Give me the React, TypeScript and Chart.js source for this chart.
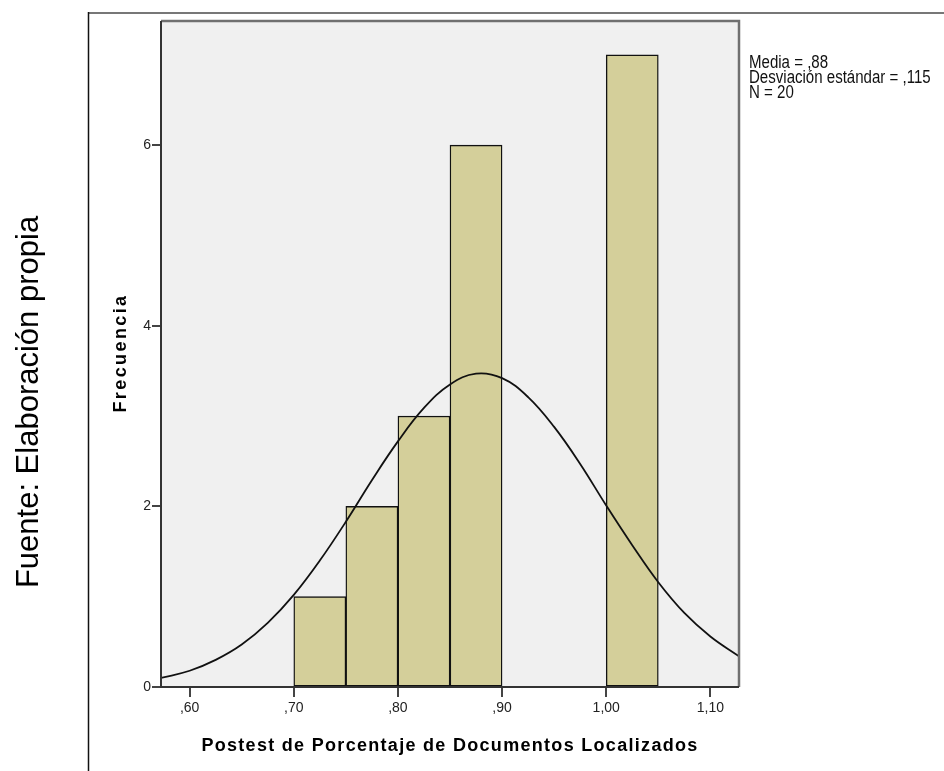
import React, { useEffect, useRef } from "react";
import { Chart, registerables } from "chart.js";

Chart.register(...registerables);

// Histogram bins (lower edge) and frequencies
const binStarts = [0.7, 0.75, 0.8, 0.85, 0.9, 0.95, 1.0];
const binWidth = 0.05;
const frequencies = [1, 2, 3, 6, 0, 0, 7];

// Normal curve points
const curveX = [0.5725, 0.6, 0.625, 0.65, 0.675, 0.7, 0.725, 0.75, 0.775, 0.8, 0.825, 0.85, 0.875, 0.9, 0.925, 0.95, 0.975, 1.0, 1.025, 1.05, 1.075, 1.1, 1.1275];
const curveY = [0.1, 0.18, 0.3, 0.47, 0.71, 1.02, 1.4, 1.83, 2.29, 2.72, 3.09, 3.35, 3.47, 3.42, 3.21, 2.88, 2.47, 2.01, 1.57, 1.16, 0.82, 0.56, 0.34];

const xTicks = [0.6, 0.7, 0.8, 0.9, 1.0, 1.1];
const yTicks = [0, 2, 4, 6];
const xMin = 0.5725;
const xMax = 1.1275;
const yMax = 7.375;

const statsLines = ["Media = ,88", "Desviación estándar = ,115", "N = 20"];
const xTitle = "Postest de Porcentaje de Documentos Localizados";
const yTitle = "Frecuencia";
const sourceText = "Fuente: Elaboración propia";

const FONT = "'Liberation Sans', Arial, sans-serif";

function fmtX(v: number): string {
  const s = v.toFixed(2).replace(".", ",");
  return s.startsWith("0") ? s.slice(1) : s;
}

export default function App() {
  const ref = useRef<HTMLCanvasElement | null>(null);

  useEffect(() => {
    if (!ref.current) return;

    const decor = {
      id: "decor",
      beforeDraw(chart: any) {
        const { ctx, chartArea: a } = chart;
        ctx.save();
        ctx.fillStyle = "#ffffff";
        ctx.fillRect(0, 0, chart.width, chart.height);
        ctx.fillStyle = "#f0f0f0";
        ctx.fillRect(a.left, a.top, a.right - a.left, a.bottom - a.top);
        ctx.restore();
      },
      afterDraw(chart: any) {
        const { ctx, chartArea: a } = chart;
        ctx.save();
        // outer frame
        ctx.strokeStyle = "#777";
        ctx.lineWidth = 2;
        ctx.beginPath();
        ctx.moveTo(88, 13);
        ctx.lineTo(944, 13);
        ctx.stroke();
        ctx.strokeStyle = "#111";
        ctx.lineWidth = 1.5;
        ctx.beginPath();
        ctx.moveTo(88.5, 12);
        ctx.lineTo(88.5, 771);
        ctx.stroke();
        // plot box
        ctx.strokeStyle = "#707070";
        ctx.lineWidth = 2.5;
        ctx.beginPath();
        ctx.moveTo(a.left, a.top);
        ctx.lineTo(a.right, a.top);
        ctx.lineTo(a.right, a.bottom);
        ctx.stroke();
        ctx.strokeStyle = "#333";
        ctx.lineWidth = 2;
        ctx.beginPath();
        ctx.moveTo(a.left, a.top);
        ctx.lineTo(a.left, a.bottom);
        ctx.lineTo(a.right, a.bottom);
        ctx.stroke();
        // stats text (tall, narrow glyphs)
        ctx.fillStyle = "#111";
        ctx.font = `17.5px ${FONT}`;
        ctx.textBaseline = "alphabetic";
        ctx.textAlign = "left";
        statsLines.forEach((t, i) => {
          ctx.save();
          ctx.translate(749, 68 + i * 14.8);
          ctx.scale(0.86, 1);
          ctx.fillText(t, 0, 0);
          ctx.restore();
        });
        // x title
        ctx.fillStyle = "#000";
        ctx.font = `bold 18px ${FONT}`;
        (ctx as any).letterSpacing = "1.3px";
        ctx.textAlign = "center";
        ctx.fillText(xTitle, 450, 751);
        // y title
        ctx.save();
        ctx.translate(126, 353);
        ctx.rotate(-Math.PI / 2);
        ctx.font = `bold 18px ${FONT}`;
        (ctx as any).letterSpacing = "2.4px";
        ctx.fillText(yTitle, 0, 0);
        ctx.restore();
        // source text
        ctx.save();
        ctx.translate(38, 402);
        ctx.rotate(-Math.PI / 2);
        ctx.font = `31px ${FONT}`;
        (ctx as any).letterSpacing = "0px";
        ctx.fillStyle = "#000";
        ctx.fillText(sourceText, 0, 0);
        ctx.restore();
        ctx.restore();
      },
    };

    const barData = binStarts
      .map((s, i) => ({ x: s + binWidth / 2, y: frequencies[i] }))
      .filter((d) => d.y > 0);
    const lineData = curveX.map((x, i) => ({ x, y: curveY[i] }));

    const chart = new Chart(ref.current, {
      type: "bar",
      data: {
        datasets: [
          {
            type: "line",
            data: lineData,
            borderColor: "#111",
            borderWidth: 1.8,
            pointRadius: 0,
            tension: 0.4,
            fill: false,
            order: 0,
          } as any,
          {
            type: "bar",
            data: barData,
            backgroundColor: "#d4cf9a",
            borderColor: "#111",
            borderWidth: 1.4,
            borderSkipped: false,
            barPercentage: 1,
            categoryPercentage: 1,
            order: 1,
          } as any,
        ],
      },
      options: {
        responsive: false,
        animation: false,
        layout: { padding: { left: 0, top: 21, right: 205, bottom: 0 } },
        plugins: { legend: { display: false }, tooltip: { enabled: false } },
        scales: {
          x: {
            type: "linear",
            min: xMin,
            max: xMax,
            offset: false,
            afterBuildTicks: (s: any) => {
              s.ticks = xTicks.map((v) => ({ value: v }));
            },
            afterFit: (s: any) => {
              s.height = 84;
            },
            grid: { offset: false, drawOnChartArea: false, drawTicks: true, tickLength: 10, color: "#444", lineWidth: 2 },
            border: { display: false },
            ticks: {
              padding: 3,
              color: "#222",
              font: { family: FONT, size: 14 },
              maxRotation: 0,
              callback: (v: any) => fmtX(Number(v)),
            },
          },
          y: {
            type: "linear",
            min: 0,
            max: yMax,
            afterBuildTicks: (s: any) => {
              s.ticks = yTicks.map((v) => ({ value: v }));
            },
            afterFit: (s: any) => {
              s.width = 161;
            },
            grid: { offset: false, drawOnChartArea: false, drawTicks: true, tickLength: 9, color: "#444", lineWidth: 2 },
            border: { display: false },
            ticks: {
              padding: 1,
              color: "#222",
              font: { family: FONT, size: 14 },
              callback: (v: any) => String(v),
            },
          },
        },
      },
      plugins: [decor],
    } as any);

    return () => chart.destroy();
  }, []);

  return (
    <div style={{ position: "absolute", left: 0, top: 0, width: 944, height: 771 }}>
      <canvas ref={ref} width={944} height={771} style={{ display: "block" }} />
    </div>
  );
}
